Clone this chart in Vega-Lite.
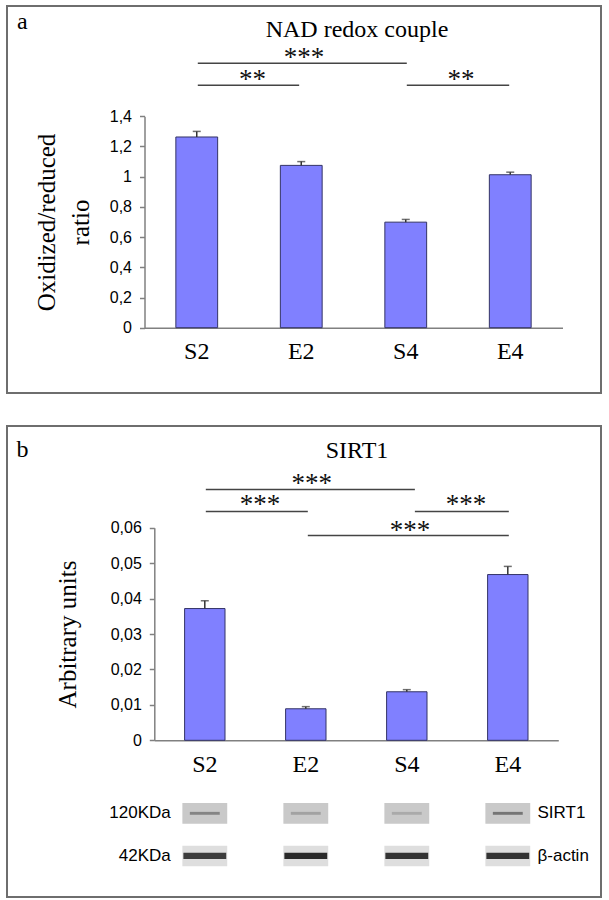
{
  "$schema": "https://vega.github.io/schema/vega-lite/v6.json",
  "padding": {"left": 6, "top": 5, "right": 0, "bottom": 0},
  "spacing": 31,
  "config": {
    "view": {"stroke": "#6e6e6e", "strokeWidth": 2},
    "font": "Liberation Sans"
  },
  "datasets": {
    "nad": [
      {"group": "S2", "value": 1.263, "upper": 1.3},
      {"group": "E2", "value": 1.075, "upper": 1.1},
      {"group": "S4", "value": 0.699, "upper": 0.717},
      {"group": "E4", "value": 1.013, "upper": 1.03}
    ],
    "nadSig": [
      {"from": 1.01, "to": 1.98, "line": 1.6056, "mid": 1.534, "label": "**", "labelY": 1.585},
      {"from": 1.01, "to": 3.01, "line": 1.7513, "mid": 2.026, "label": "***", "labelY": 1.735},
      {"from": 3.01, "to": 3.99, "line": 1.6056, "mid": 3.529, "label": "**", "labelY": 1.585}
    ],
    "sirt": [
      {"group": "S2", "value": 0.0372, "upper": 0.0394},
      {"group": "E2", "value": 0.0089, "upper": 0.0095},
      {"group": "S4", "value": 0.0137, "upper": 0.0143},
      {"group": "E4", "value": 0.0468, "upper": 0.0491}
    ],
    "sirtSig": [
      {"from": 1.01, "to": 3.08, "line": 0.0708, "mid": 2.058, "label": "***", "labelY": 0.0702},
      {"from": 1.01, "to": 2.02, "line": 0.0646, "mid": 1.547, "label": "***", "labelY": 0.0642},
      {"from": 3.08, "to": 4.01, "line": 0.0646, "mid": 3.586, "label": "***", "labelY": 0.0642},
      {"from": 2.02, "to": 4.01, "line": 0.0578, "mid": 3.032, "label": "***", "labelY": 0.0569}
    ],
    "blot": [
      {"lane": "S2", "protein": "SIRT1", "mw": "120KDa", "intensity": 0.45},
      {"lane": "E2", "protein": "SIRT1", "mw": "120KDa", "intensity": 0.25},
      {"lane": "S4", "protein": "SIRT1", "mw": "120KDa", "intensity": 0.2},
      {"lane": "E4", "protein": "SIRT1", "mw": "120KDa", "intensity": 0.55},
      {"lane": "S2", "protein": "β-actin", "mw": "42KDa", "intensity": 0.85},
      {"lane": "E2", "protein": "β-actin", "mw": "42KDa", "intensity": 0.95},
      {"lane": "S4", "protein": "β-actin", "mw": "42KDa", "intensity": 0.9},
      {"lane": "E4", "protein": "β-actin", "mw": "42KDa", "intensity": 0.9}
    ]
  },
  "vconcat": [
    {
      "width": 594,
      "height": 387,
      "title": {"text": "NAD redox couple", "font": "Liberation Serif", "fontSize": 24, "fontWeight": "normal", "color": "black", "anchor": "middle", "frame": "group", "baseline": "alphabetic", "offset": -55, "dx": 53},
      "layer": [
        {
          "data": {"name": "nad"},
          "layer": [
            {
              "mark": {"type": "bar", "fill": "#8080ff", "stroke": "#333366", "strokeWidth": 1},
              "encoding": {
                "x": {"field": "group", "type": "nominal", "sort": null,
                  "scale": {"domain": ["S2", "E2", "S4", "E4"], "range": [137.5, 555.5], "paddingInner": 0.6, "paddingOuter": 0.3},
                  "axis": {"title": "a", "titleFont": "Liberation Serif", "titleFontSize": 24, "titleFontWeight": "normal", "titleColor": "black", "titleAlign": "left", "titleBaseline": "alphabetic", "titleX": 9.5, "titleY": -299.5,
                    "offset": -65.3, "ticks": false, "labelAngle": 0, "labelFont": "Liberation Serif", "labelFontSize": 24, "labelColor": "black", "labelPadding": 12, "domainColor": "#808080", "domainWidth": 1.5}},
                "y": {"field": "value", "type": "quantitative",
                  "scale": {"domain": [0, 1.4], "range": [321.7, 110.3], "nice": false},
                  "axis": {"title": ["Oxidized/reduced", "ratio"], "titleFont": "Liberation Serif", "titleFontSize": 25, "titleFontWeight": "normal", "titleColor": "black", "titleLineHeight": 34, "titlePadding": 16,
                    "offset": -137.5, "values": [0, 0.2, 0.4, 0.6, 0.8, 1, 1.2, 1.4], "labelExpr": "replace(format(datum.value, '~g'), '.', ',')",
                    "labelFont": "Liberation Sans", "labelFontSize": 16, "labelColor": "black", "labelPadding": 8, "tickSize": 5, "grid": false,
                    "domainColor": "#808080", "tickColor": "#808080", "domainWidth": 1.5, "tickWidth": 1.5}}
              }
            },
            {
              "mark": {"type": "rule", "color": "#333333", "strokeWidth": 1.5},
              "encoding": {
                "x": {"field": "group", "type": "nominal", "sort": null},
                "y": {"field": "value", "type": "quantitative"},
                "y2": {"field": "upper"}
              }
            },
            {
              "mark": {"type": "tick", "orient": "horizontal", "size": 8, "thickness": 1.5, "color": "#333333"},
              "encoding": {
                "x": {"field": "group", "type": "nominal", "sort": null},
                "y": {"field": "upper", "type": "quantitative"}
              }
            }
          ]
        },
        {
          "data": {"name": "nadSig"},
          "layer": [
            {
              "mark": {"type": "rule", "color": "#444444", "strokeWidth": 1.5},
              "encoding": {
                "x": {"field": "from", "type": "quantitative", "scale": {"domain": [0.5, 4.5], "range": [137.5, 555.5], "nice": false, "zero": false}, "axis": null},
                "x2": {"field": "to"},
                "y": {"field": "line", "type": "quantitative", "scale": {"domain": [0, 1.4], "range": [321.7, 110.3], "nice": false}, "axis": null}
              }
            },
            {
              "mark": {"type": "text", "font": "Liberation Serif", "fontSize": 27, "baseline": "alphabetic", "align": "center", "color": "#111111"},
              "encoding": {
                "x": {"field": "mid", "type": "quantitative"},
                "y": {"field": "labelY", "type": "quantitative"},
                "text": {"field": "label"}
              }
            }
          ]
        }
      ],
      "resolve": {"scale": {"x": "independent", "y": "independent"}, "axis": {"x": "independent", "y": "independent"}}
    },
    {
      "width": 594,
      "height": 471,
      "title": {"text": "SIRT1", "font": "Liberation Serif", "fontSize": 24, "fontWeight": "normal", "color": "black", "anchor": "middle", "frame": "group", "baseline": "alphabetic", "offset": -55.6, "dx": 53},
      "layer": [
        {
          "data": {"name": "sirt"},
          "layer": [
            {
              "mark": {"type": "bar", "fill": "#8080ff", "stroke": "#333366", "strokeWidth": 1},
              "encoding": {
                "x": {"field": "group", "type": "nominal", "sort": null,
                  "scale": {"domain": ["S2", "E2", "S4", "E4"], "range": [147.3, 551.3], "paddingInner": 0.6, "paddingOuter": 0.3},
                  "axis": {"title": "b", "titleFont": "Liberation Serif", "titleFontSize": 24, "titleFontWeight": "normal", "titleColor": "black", "titleAlign": "left", "titleBaseline": "alphabetic", "titleX": 9, "titleY": -284.3,
                    "offset": -156.7, "ticks": false, "labelAngle": 0, "labelFont": "Liberation Serif", "labelFontSize": 24, "labelColor": "black", "labelPadding": 12, "domainColor": "#808080", "domainWidth": 1.5}},
                "y": {"field": "value", "type": "quantitative",
                  "scale": {"domain": [0, 0.06], "range": [314.3, 101.8], "nice": false},
                  "axis": {"title": "Arbitrary units", "titleFont": "Liberation Serif", "titleFontSize": 25, "titleFontWeight": "normal", "titleColor": "black", "titlePadding": 30,
                    "offset": -147.3, "values": [0, 0.01, 0.02, 0.03, 0.04, 0.05, 0.06], "labelExpr": "replace(format(datum.value, '~g'), '.', ',')",
                    "labelFont": "Liberation Sans", "labelFontSize": 16, "labelColor": "black", "labelPadding": 8, "tickSize": 5, "grid": false,
                    "domainColor": "#808080", "tickColor": "#808080", "domainWidth": 1.5, "tickWidth": 1.5}}
              }
            },
            {
              "mark": {"type": "rule", "color": "#333333", "strokeWidth": 1.5},
              "encoding": {
                "x": {"field": "group", "type": "nominal", "sort": null},
                "y": {"field": "value", "type": "quantitative"},
                "y2": {"field": "upper"}
              }
            },
            {
              "mark": {"type": "tick", "orient": "horizontal", "size": 8, "thickness": 1.5, "color": "#333333"},
              "encoding": {
                "x": {"field": "group", "type": "nominal", "sort": null},
                "y": {"field": "upper", "type": "quantitative"}
              }
            }
          ]
        },
        {
          "data": {"name": "sirtSig"},
          "layer": [
            {
              "mark": {"type": "rule", "color": "#444444", "strokeWidth": 1.5},
              "encoding": {
                "x": {"field": "from", "type": "quantitative", "scale": {"domain": [0.5, 4.5], "range": [147.3, 551.3], "nice": false, "zero": false}, "axis": null},
                "x2": {"field": "to"},
                "y": {"field": "line", "type": "quantitative", "scale": {"domain": [0, 0.06], "range": [314.3, 101.8], "nice": false}, "axis": null}
              }
            },
            {
              "mark": {"type": "text", "font": "Liberation Serif", "fontSize": 27, "baseline": "alphabetic", "align": "center", "color": "#111111"},
              "encoding": {
                "x": {"field": "mid", "type": "quantitative"},
                "y": {"field": "labelY", "type": "quantitative"},
                "text": {"field": "label"}
              }
            }
          ]
        },
        {
          "data": {"name": "blot"},
          "encoding": {
            "x": {"field": "lane", "type": "nominal", "sort": null,
              "scale": {"domain": ["S2", "E2", "S4", "E4"], "range": [147.3, 551.3], "paddingInner": 0.6, "paddingOuter": 0.3}, "axis": null},
            "y": {"field": "protein", "type": "nominal", "sort": null,
              "scale": {"domain": ["SIRT1", "β-actin"], "range": [377, 440.3], "paddingInner": 0.515, "paddingOuter": 0}, "axis": null}
          },
          "layer": [
            {
              "mark": {"type": "bar", "width": {"band": 1.11}},
              "encoding": {
                "color": {"field": "protein", "type": "nominal", "scale": {"domain": ["SIRT1", "β-actin"], "range": ["#c9c9c9", "#dedede"]}, "legend": null}
              }
            },
            {
              "transform": [{"filter": "datum.protein === 'SIRT1'"}],
              "mark": {"type": "bar", "width": {"band": 0.74}, "height": {"band": 0.14}, "color": "#303030"},
              "encoding": {
                "opacity": {"field": "intensity", "type": "quantitative", "scale": {"domain": [0, 1], "range": [0, 1]}, "legend": null}
              }
            },
            {
              "transform": [{"filter": "datum.protein === 'β-actin'"}],
              "mark": {"type": "bar", "width": {"band": 1.06}, "height": {"band": 0.3}, "color": "#202020"},
              "encoding": {
                "opacity": {"field": "intensity", "type": "quantitative", "scale": {"domain": [0, 1], "range": [0, 1]}, "legend": null}
              }
            },
            {
              "transform": [{"filter": "datum.lane === 'S2'"}],
              "mark": {"type": "text", "align": "right", "baseline": "middle", "dx": -34, "font": "Liberation Sans", "fontSize": 17, "color": "black"},
              "encoding": {"text": {"field": "mw"}}
            },
            {
              "transform": [{"filter": "datum.lane === 'E4'"}],
              "mark": {"type": "text", "align": "left", "baseline": "middle", "dx": 29.7, "font": "Liberation Sans", "fontSize": 17, "color": "black"},
              "encoding": {"text": {"field": "protein"}}
            }
          ]
        }
      ],
      "resolve": {"scale": {"x": "independent", "y": "independent", "color": "independent", "opacity": "independent"}, "axis": {"x": "independent", "y": "independent"}}
    }
  ]
}
